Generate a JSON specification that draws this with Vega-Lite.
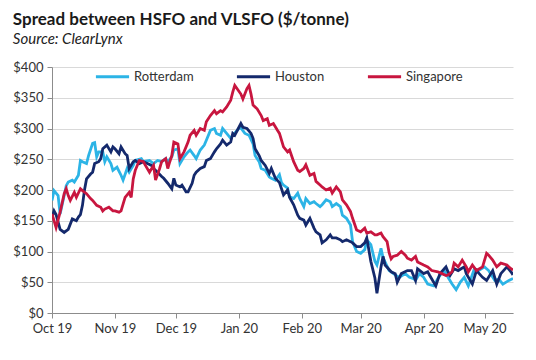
{
  "$schema": "https://vega.github.io/schema/vega-lite/v6.json",
  "width": 461,
  "height": 246,
  "padding": {"left": 12, "top": 11, "right": 22, "bottom": 6},
  "background": "white",
  "title": {
    "text": "Spread between HSFO and VLSFO ($/tonne)",
    "subtitle": "Source: ClearLynx",
    "anchor": "start",
    "frame": "bounds",
    "font": "Lato",
    "fontSize": 17,
    "fontWeight": "bold",
    "color": "#1a1a1a",
    "subtitleFont": "Lato",
    "subtitleFontSize": 15,
    "subtitleFontStyle": "italic",
    "subtitleColor": "#222222",
    "subtitlePadding": 3,
    "offset": 10
  },
  "datasets": {
    "rows": [
      {"c":"Rotterdam","d":"2019-10-01","v":183},{"c":"Rotterdam","d":"2019-10-02","v":199},{"c":"Rotterdam","d":"2019-10-04","v":191},{"c":"Rotterdam","d":"2019-10-05","v":161},{"c":"Rotterdam","d":"2019-10-07","v":191},{"c":"Rotterdam","d":"2019-10-08","v":207},{"c":"Rotterdam","d":"2019-10-09","v":213},{"c":"Rotterdam","d":"2019-10-11","v":216},{"c":"Rotterdam","d":"2019-10-12","v":213},{"c":"Rotterdam","d":"2019-10-14","v":224},{"c":"Rotterdam","d":"2019-10-15","v":248},{"c":"Rotterdam","d":"2019-10-16","v":246},{"c":"Rotterdam","d":"2019-10-18","v":243},{"c":"Rotterdam","d":"2019-10-19","v":256},{"c":"Rotterdam","d":"2019-10-21","v":276},{"c":"Rotterdam","d":"2019-10-22","v":277},{"c":"Rotterdam","d":"2019-10-23","v":254},{"c":"Rotterdam","d":"2019-10-24","v":262},{"c":"Rotterdam","d":"2019-10-26","v":262},{"c":"Rotterdam","d":"2019-10-27","v":246},{"c":"Rotterdam","d":"2019-10-28","v":254},{"c":"Rotterdam","d":"2019-10-30","v":243},{"c":"Rotterdam","d":"2019-10-31","v":232},{"c":"Rotterdam","d":"2019-11-02","v":237},{"c":"Rotterdam","d":"2019-11-04","v":224},{"c":"Rotterdam","d":"2019-11-05","v":216},{"c":"Rotterdam","d":"2019-11-07","v":235},{"c":"Rotterdam","d":"2019-11-08","v":229},{"c":"Rotterdam","d":"2019-11-10","v":240},{"c":"Rotterdam","d":"2019-11-11","v":248},{"c":"Rotterdam","d":"2019-11-14","v":251},{"c":"Rotterdam","d":"2019-11-15","v":246},{"c":"Rotterdam","d":"2019-11-18","v":248},{"c":"Rotterdam","d":"2019-11-20","v":243},{"c":"Rotterdam","d":"2019-11-22","v":248},{"c":"Rotterdam","d":"2019-11-24","v":246},{"c":"Rotterdam","d":"2019-11-26","v":251},{"c":"Rotterdam","d":"2019-11-27","v":246},{"c":"Rotterdam","d":"2019-11-29","v":254},{"c":"Rotterdam","d":"2019-11-30","v":265},{"c":"Rotterdam","d":"2019-12-02","v":267},{"c":"Rotterdam","d":"2019-12-03","v":243},{"c":"Rotterdam","d":"2019-12-05","v":254},{"c":"Rotterdam","d":"2019-12-07","v":262},{"c":"Rotterdam","d":"2019-12-08","v":265},{"c":"Rotterdam","d":"2019-12-10","v":256},{"c":"Rotterdam","d":"2019-12-11","v":251},{"c":"Rotterdam","d":"2019-12-13","v":265},{"c":"Rotterdam","d":"2019-12-15","v":273},{"c":"Rotterdam","d":"2019-12-16","v":281},{"c":"Rotterdam","d":"2019-12-18","v":297},{"c":"Rotterdam","d":"2019-12-20","v":300},{"c":"Rotterdam","d":"2019-12-21","v":292},{"c":"Rotterdam","d":"2019-12-23","v":289},{"c":"Rotterdam","d":"2019-12-24","v":300},{"c":"Rotterdam","d":"2019-12-26","v":292},{"c":"Rotterdam","d":"2019-12-28","v":284},{"c":"Rotterdam","d":"2019-12-29","v":289},{"c":"Rotterdam","d":"2020-01-01","v":300},{"c":"Rotterdam","d":"2020-01-02","v":301},{"c":"Rotterdam","d":"2020-01-04","v":292},{"c":"Rotterdam","d":"2020-01-06","v":289},{"c":"Rotterdam","d":"2020-01-08","v":275},{"c":"Rotterdam","d":"2020-01-09","v":256},{"c":"Rotterdam","d":"2020-01-11","v":246},{"c":"Rotterdam","d":"2020-01-12","v":235},{"c":"Rotterdam","d":"2020-01-14","v":232},{"c":"Rotterdam","d":"2020-01-16","v":221},{"c":"Rotterdam","d":"2020-01-17","v":219},{"c":"Rotterdam","d":"2020-01-19","v":216},{"c":"Rotterdam","d":"2020-01-21","v":225},{"c":"Rotterdam","d":"2020-01-22","v":212},{"c":"Rotterdam","d":"2020-01-23","v":208},{"c":"Rotterdam","d":"2020-01-25","v":203},{"c":"Rotterdam","d":"2020-01-26","v":189},{"c":"Rotterdam","d":"2020-01-28","v":186},{"c":"Rotterdam","d":"2020-01-30","v":195},{"c":"Rotterdam","d":"2020-01-31","v":186},{"c":"Rotterdam","d":"2020-02-02","v":173},{"c":"Rotterdam","d":"2020-02-03","v":186},{"c":"Rotterdam","d":"2020-02-05","v":178},{"c":"Rotterdam","d":"2020-02-07","v":181},{"c":"Rotterdam","d":"2020-02-08","v":178},{"c":"Rotterdam","d":"2020-02-10","v":173},{"c":"Rotterdam","d":"2020-02-11","v":176},{"c":"Rotterdam","d":"2020-02-13","v":184},{"c":"Rotterdam","d":"2020-02-15","v":181},{"c":"Rotterdam","d":"2020-02-16","v":173},{"c":"Rotterdam","d":"2020-02-18","v":178},{"c":"Rotterdam","d":"2020-02-20","v":173},{"c":"Rotterdam","d":"2020-02-21","v":159},{"c":"Rotterdam","d":"2020-02-23","v":154},{"c":"Rotterdam","d":"2020-02-25","v":143},{"c":"Rotterdam","d":"2020-02-26","v":116},{"c":"Rotterdam","d":"2020-02-28","v":100},{"c":"Rotterdam","d":"2020-03-01","v":97},{"c":"Rotterdam","d":"2020-03-03","v":103},{"c":"Rotterdam","d":"2020-03-04","v":119},{"c":"Rotterdam","d":"2020-03-06","v":111},{"c":"Rotterdam","d":"2020-03-08","v":84},{"c":"Rotterdam","d":"2020-03-09","v":78},{"c":"Rotterdam","d":"2020-03-11","v":105},{"c":"Rotterdam","d":"2020-03-12","v":90},{"c":"Rotterdam","d":"2020-03-15","v":69},{"c":"Rotterdam","d":"2020-03-16","v":67},{"c":"Rotterdam","d":"2020-03-18","v":62},{"c":"Rotterdam","d":"2020-03-20","v":58},{"c":"Rotterdam","d":"2020-03-23","v":64},{"c":"Rotterdam","d":"2020-03-25","v":58},{"c":"Rotterdam","d":"2020-03-27","v":56},{"c":"Rotterdam","d":"2020-03-28","v":53},{"c":"Rotterdam","d":"2020-03-30","v":64},{"c":"Rotterdam","d":"2020-04-01","v":58},{"c":"Rotterdam","d":"2020-04-03","v":47},{"c":"Rotterdam","d":"2020-04-06","v":44},{"c":"Rotterdam","d":"2020-04-08","v":56},{"c":"Rotterdam","d":"2020-04-11","v":70},{"c":"Rotterdam","d":"2020-04-13","v":58},{"c":"Rotterdam","d":"2020-04-15","v":47},{"c":"Rotterdam","d":"2020-04-17","v":38},{"c":"Rotterdam","d":"2020-04-19","v":50},{"c":"Rotterdam","d":"2020-04-21","v":58},{"c":"Rotterdam","d":"2020-04-23","v":44},{"c":"Rotterdam","d":"2020-04-26","v":72},{"c":"Rotterdam","d":"2020-04-28","v":69},{"c":"Rotterdam","d":"2020-05-01","v":75},{"c":"Rotterdam","d":"2020-05-03","v":69},{"c":"Rotterdam","d":"2020-05-06","v":53},{"c":"Rotterdam","d":"2020-05-08","v":55},{"c":"Rotterdam","d":"2020-05-10","v":47},{"c":"Rotterdam","d":"2020-05-13","v":53},{"c":"Rotterdam","d":"2020-05-15","v":56},
      {"c":"Houston","d":"2019-10-01","v":155},{"c":"Houston","d":"2019-10-02","v":166},{"c":"Houston","d":"2019-10-03","v":160},{"c":"Houston","d":"2019-10-05","v":136},{"c":"Houston","d":"2019-10-07","v":131},{"c":"Houston","d":"2019-10-09","v":136},{"c":"Houston","d":"2019-10-11","v":153},{"c":"Houston","d":"2019-10-13","v":150},{"c":"Houston","d":"2019-10-14","v":156},{"c":"Houston","d":"2019-10-15","v":160},{"c":"Houston","d":"2019-10-16","v":175},{"c":"Houston","d":"2019-10-17","v":200},{"c":"Houston","d":"2019-10-18","v":218},{"c":"Houston","d":"2019-10-20","v":226},{"c":"Houston","d":"2019-10-21","v":229},{"c":"Houston","d":"2019-10-22","v":243},{"c":"Houston","d":"2019-10-24","v":246},{"c":"Houston","d":"2019-10-25","v":251},{"c":"Houston","d":"2019-10-26","v":267},{"c":"Houston","d":"2019-10-28","v":273},{"c":"Houston","d":"2019-10-30","v":262},{"c":"Houston","d":"2019-10-31","v":270},{"c":"Houston","d":"2019-11-01","v":267},{"c":"Houston","d":"2019-11-03","v":259},{"c":"Houston","d":"2019-11-04","v":270},{"c":"Houston","d":"2019-11-06","v":259},{"c":"Houston","d":"2019-11-07","v":256},{"c":"Houston","d":"2019-11-08","v":235},{"c":"Houston","d":"2019-11-10","v":246},{"c":"Houston","d":"2019-11-11","v":248},{"c":"Houston","d":"2019-11-13","v":243},{"c":"Houston","d":"2019-11-15","v":246},{"c":"Houston","d":"2019-11-17","v":243},{"c":"Houston","d":"2019-11-19","v":240},{"c":"Houston","d":"2019-11-20","v":235},{"c":"Houston","d":"2019-11-22","v":229},{"c":"Houston","d":"2019-11-24","v":222},{"c":"Houston","d":"2019-11-25","v":219},{"c":"Houston","d":"2019-11-27","v":211},{"c":"Houston","d":"2019-11-29","v":202},{"c":"Houston","d":"2019-11-30","v":219},{"c":"Houston","d":"2019-12-01","v":208},{"c":"Houston","d":"2019-12-03","v":205},{"c":"Houston","d":"2019-12-04","v":208},{"c":"Houston","d":"2019-12-06","v":197},{"c":"Houston","d":"2019-12-07","v":197},{"c":"Houston","d":"2019-12-09","v":211},{"c":"Houston","d":"2019-12-10","v":224},{"c":"Houston","d":"2019-12-11","v":229},{"c":"Houston","d":"2019-12-13","v":235},{"c":"Houston","d":"2019-12-15","v":238},{"c":"Houston","d":"2019-12-16","v":248},{"c":"Houston","d":"2019-12-18","v":251},{"c":"Houston","d":"2019-12-20","v":262},{"c":"Houston","d":"2019-12-21","v":267},{"c":"Houston","d":"2019-12-23","v":275},{"c":"Houston","d":"2019-12-24","v":281},{"c":"Houston","d":"2019-12-26","v":273},{"c":"Houston","d":"2019-12-28","v":278},{"c":"Houston","d":"2019-12-29","v":292},{"c":"Houston","d":"2019-12-30","v":289},{"c":"Houston","d":"2020-01-02","v":308},{"c":"Houston","d":"2020-01-03","v":302},{"c":"Houston","d":"2020-01-05","v":300},{"c":"Houston","d":"2020-01-07","v":292},{"c":"Houston","d":"2020-01-08","v":284},{"c":"Houston","d":"2020-01-09","v":267},{"c":"Houston","d":"2020-01-11","v":256},{"c":"Houston","d":"2020-01-12","v":248},{"c":"Houston","d":"2020-01-14","v":240},{"c":"Houston","d":"2020-01-16","v":227},{"c":"Houston","d":"2020-01-17","v":235},{"c":"Houston","d":"2020-01-19","v":219},{"c":"Houston","d":"2020-01-21","v":212},{"c":"Houston","d":"2020-01-22","v":202},{"c":"Houston","d":"2020-01-23","v":192},{"c":"Houston","d":"2020-01-25","v":200},{"c":"Houston","d":"2020-01-26","v":188},{"c":"Houston","d":"2020-01-28","v":176},{"c":"Houston","d":"2020-01-30","v":159},{"c":"Houston","d":"2020-01-31","v":154},{"c":"Houston","d":"2020-02-02","v":151},{"c":"Houston","d":"2020-02-03","v":143},{"c":"Houston","d":"2020-02-05","v":154},{"c":"Houston","d":"2020-02-07","v":138},{"c":"Houston","d":"2020-02-08","v":132},{"c":"Houston","d":"2020-02-10","v":127},{"c":"Houston","d":"2020-02-11","v":114},{"c":"Houston","d":"2020-02-13","v":119},{"c":"Houston","d":"2020-02-15","v":127},{"c":"Houston","d":"2020-02-16","v":122},{"c":"Houston","d":"2020-02-18","v":122},{"c":"Houston","d":"2020-02-20","v":119},{"c":"Houston","d":"2020-02-21","v":116},{"c":"Houston","d":"2020-02-23","v":119},{"c":"Houston","d":"2020-02-25","v":116},{"c":"Houston","d":"2020-02-26","v":114},{"c":"Houston","d":"2020-02-28","v":108},{"c":"Houston","d":"2020-03-01","v":108},{"c":"Houston","d":"2020-03-03","v":114},{"c":"Houston","d":"2020-03-04","v":122},{"c":"Houston","d":"2020-03-06","v":84},{"c":"Houston","d":"2020-03-08","v":57},{"c":"Houston","d":"2020-03-09","v":32},{"c":"Houston","d":"2020-03-11","v":75},{"c":"Houston","d":"2020-03-12","v":92},{"c":"Houston","d":"2020-03-13","v":78},{"c":"Houston","d":"2020-03-16","v":67},{"c":"Houston","d":"2020-03-18","v":64},{"c":"Houston","d":"2020-03-19","v":50},{"c":"Houston","d":"2020-03-21","v":64},{"c":"Houston","d":"2020-03-24","v":69},{"c":"Houston","d":"2020-03-26","v":69},{"c":"Houston","d":"2020-03-28","v":53},{"c":"Houston","d":"2020-03-29","v":72},{"c":"Houston","d":"2020-04-01","v":64},{"c":"Houston","d":"2020-04-03","v":67},{"c":"Houston","d":"2020-04-04","v":61},{"c":"Houston","d":"2020-04-07","v":44},{"c":"Houston","d":"2020-04-09","v":64},{"c":"Houston","d":"2020-04-12","v":75},{"c":"Houston","d":"2020-04-13","v":67},{"c":"Houston","d":"2020-04-14","v":61},{"c":"Houston","d":"2020-04-16","v":72},{"c":"Houston","d":"2020-04-18","v":69},{"c":"Houston","d":"2020-04-21","v":75},{"c":"Houston","d":"2020-04-22","v":64},{"c":"Houston","d":"2020-04-25","v":47},{"c":"Houston","d":"2020-04-27","v":69},{"c":"Houston","d":"2020-04-30","v":58},{"c":"Houston","d":"2020-05-02","v":53},{"c":"Houston","d":"2020-05-05","v":69},{"c":"Houston","d":"2020-05-07","v":47},{"c":"Houston","d":"2020-05-09","v":64},{"c":"Houston","d":"2020-05-12","v":75},{"c":"Houston","d":"2020-05-14","v":67},{"c":"Houston","d":"2020-05-15","v":62},
      {"c":"Singapore","d":"2019-10-01","v":161},{"c":"Singapore","d":"2019-10-03","v":139},{"c":"Singapore","d":"2019-10-05","v":164},{"c":"Singapore","d":"2019-10-07","v":194},{"c":"Singapore","d":"2019-10-08","v":202},{"c":"Singapore","d":"2019-10-09","v":191},{"c":"Singapore","d":"2019-10-10","v":183},{"c":"Singapore","d":"2019-10-12","v":196},{"c":"Singapore","d":"2019-10-13","v":188},{"c":"Singapore","d":"2019-10-15","v":202},{"c":"Singapore","d":"2019-10-16","v":199},{"c":"Singapore","d":"2019-10-18","v":194},{"c":"Singapore","d":"2019-10-20","v":186},{"c":"Singapore","d":"2019-10-21","v":183},{"c":"Singapore","d":"2019-10-23","v":175},{"c":"Singapore","d":"2019-10-25","v":172},{"c":"Singapore","d":"2019-10-26","v":166},{"c":"Singapore","d":"2019-10-27","v":169},{"c":"Singapore","d":"2019-10-29","v":172},{"c":"Singapore","d":"2019-10-31","v":166},{"c":"Singapore","d":"2019-11-01","v":166},{"c":"Singapore","d":"2019-11-03","v":164},{"c":"Singapore","d":"2019-11-04","v":166},{"c":"Singapore","d":"2019-11-06","v":188},{"c":"Singapore","d":"2019-11-08","v":196},{"c":"Singapore","d":"2019-11-09","v":188},{"c":"Singapore","d":"2019-11-10","v":218},{"c":"Singapore","d":"2019-11-11","v":232},{"c":"Singapore","d":"2019-11-13","v":248},{"c":"Singapore","d":"2019-11-15","v":246},{"c":"Singapore","d":"2019-11-16","v":240},{"c":"Singapore","d":"2019-11-18","v":229},{"c":"Singapore","d":"2019-11-20","v":240},{"c":"Singapore","d":"2019-11-21","v":216},{"c":"Singapore","d":"2019-11-23","v":235},{"c":"Singapore","d":"2019-11-24","v":246},{"c":"Singapore","d":"2019-11-26","v":251},{"c":"Singapore","d":"2019-11-27","v":235},{"c":"Singapore","d":"2019-11-28","v":246},{"c":"Singapore","d":"2019-11-29","v":256},{"c":"Singapore","d":"2019-11-30","v":278},{"c":"Singapore","d":"2019-12-02","v":275},{"c":"Singapore","d":"2019-12-03","v":251},{"c":"Singapore","d":"2019-12-05","v":262},{"c":"Singapore","d":"2019-12-07","v":278},{"c":"Singapore","d":"2019-12-08","v":289},{"c":"Singapore","d":"2019-12-10","v":297},{"c":"Singapore","d":"2019-12-11","v":289},{"c":"Singapore","d":"2019-12-13","v":300},{"c":"Singapore","d":"2019-12-15","v":297},{"c":"Singapore","d":"2019-12-16","v":311},{"c":"Singapore","d":"2019-12-18","v":321},{"c":"Singapore","d":"2019-12-20","v":329},{"c":"Singapore","d":"2019-12-21","v":324},{"c":"Singapore","d":"2019-12-23","v":329},{"c":"Singapore","d":"2019-12-24","v":327},{"c":"Singapore","d":"2019-12-26","v":335},{"c":"Singapore","d":"2019-12-28","v":346},{"c":"Singapore","d":"2019-12-29","v":359},{"c":"Singapore","d":"2019-12-30","v":370},{"c":"Singapore","d":"2020-01-02","v":356},{"c":"Singapore","d":"2020-01-03","v":348},{"c":"Singapore","d":"2020-01-05","v":365},{"c":"Singapore","d":"2020-01-06","v":370},{"c":"Singapore","d":"2020-01-07","v":356},{"c":"Singapore","d":"2020-01-08","v":338},{"c":"Singapore","d":"2020-01-10","v":332},{"c":"Singapore","d":"2020-01-12","v":321},{"c":"Singapore","d":"2020-01-13","v":313},{"c":"Singapore","d":"2020-01-15","v":316},{"c":"Singapore","d":"2020-01-16","v":305},{"c":"Singapore","d":"2020-01-18","v":308},{"c":"Singapore","d":"2020-01-20","v":297},{"c":"Singapore","d":"2020-01-21","v":292},{"c":"Singapore","d":"2020-01-23","v":270},{"c":"Singapore","d":"2020-01-25","v":262},{"c":"Singapore","d":"2020-01-26","v":265},{"c":"Singapore","d":"2020-01-28","v":246},{"c":"Singapore","d":"2020-01-30","v":232},{"c":"Singapore","d":"2020-01-31","v":230},{"c":"Singapore","d":"2020-02-02","v":235},{"c":"Singapore","d":"2020-02-03","v":241},{"c":"Singapore","d":"2020-02-05","v":224},{"c":"Singapore","d":"2020-02-07","v":227},{"c":"Singapore","d":"2020-02-08","v":214},{"c":"Singapore","d":"2020-02-10","v":208},{"c":"Singapore","d":"2020-02-11","v":205},{"c":"Singapore","d":"2020-02-13","v":200},{"c":"Singapore","d":"2020-02-15","v":203},{"c":"Singapore","d":"2020-02-16","v":195},{"c":"Singapore","d":"2020-02-18","v":205},{"c":"Singapore","d":"2020-02-20","v":197},{"c":"Singapore","d":"2020-02-21","v":184},{"c":"Singapore","d":"2020-02-23","v":176},{"c":"Singapore","d":"2020-02-25","v":165},{"c":"Singapore","d":"2020-02-26","v":154},{"c":"Singapore","d":"2020-02-28","v":135},{"c":"Singapore","d":"2020-03-01","v":132},{"c":"Singapore","d":"2020-03-03","v":138},{"c":"Singapore","d":"2020-03-04","v":130},{"c":"Singapore","d":"2020-03-06","v":132},{"c":"Singapore","d":"2020-03-08","v":127},{"c":"Singapore","d":"2020-03-09","v":127},{"c":"Singapore","d":"2020-03-11","v":130},{"c":"Singapore","d":"2020-03-12","v":124},{"c":"Singapore","d":"2020-03-14","v":116},{"c":"Singapore","d":"2020-03-15","v":98},{"c":"Singapore","d":"2020-03-16","v":88},{"c":"Singapore","d":"2020-03-17","v":92},{"c":"Singapore","d":"2020-03-19","v":94},{"c":"Singapore","d":"2020-03-21","v":100},{"c":"Singapore","d":"2020-03-23","v":94},{"c":"Singapore","d":"2020-03-24","v":89},{"c":"Singapore","d":"2020-03-26","v":86},{"c":"Singapore","d":"2020-03-28","v":92},{"c":"Singapore","d":"2020-03-29","v":83},{"c":"Singapore","d":"2020-04-01","v":78},{"c":"Singapore","d":"2020-04-03","v":75},{"c":"Singapore","d":"2020-04-05","v":69},{"c":"Singapore","d":"2020-04-08","v":67},{"c":"Singapore","d":"2020-04-10","v":64},{"c":"Singapore","d":"2020-04-12","v":61},{"c":"Singapore","d":"2020-04-13","v":62},{"c":"Singapore","d":"2020-04-15","v":67},{"c":"Singapore","d":"2020-04-16","v":81},{"c":"Singapore","d":"2020-04-18","v":75},{"c":"Singapore","d":"2020-04-20","v":86},{"c":"Singapore","d":"2020-04-22","v":75},{"c":"Singapore","d":"2020-04-23","v":67},{"c":"Singapore","d":"2020-04-25","v":78},{"c":"Singapore","d":"2020-04-27","v":69},{"c":"Singapore","d":"2020-04-30","v":75},{"c":"Singapore","d":"2020-05-02","v":97},{"c":"Singapore","d":"2020-05-03","v":94},{"c":"Singapore","d":"2020-05-05","v":86},{"c":"Singapore","d":"2020-05-07","v":75},{"c":"Singapore","d":"2020-05-09","v":81},{"c":"Singapore","d":"2020-05-12","v":78},{"c":"Singapore","d":"2020-05-14","v":72},{"c":"Singapore","d":"2020-05-15","v":70}
    ]
  },
  "data": {"name": "rows", "format": {"parse": {"d": "date:'%Y-%m-%d'"}}},
  "mark": {"type": "line", "strokeWidth": 2.8, "interpolate": "linear", "clip": true},
  "encoding": {
    "x": {
      "field": "d",
      "type": "temporal",
      "scale": {"domain": [{"year": 2019, "month": 10, "date": 1}, {"year": 2020, "month": 5, "date": 15}]},
      "axis": {
        "title": null,
        "format": "%b %y",
        "tickCount": {"interval": "month", "step": 1},
        "grid": false,
        "domainColor": "#8c8c8c",
        "tickColor": "#8c8c8c",
        "tickSize": 5,
        "labelFont": "Lato",
        "labelFontSize": 13,
        "labelColor": "#333333",
        "labelPadding": 4,
        "labelFlush": false,
        "labelOverlap": false
      }
    },
    "y": {
      "field": "v",
      "type": "quantitative",
      "scale": {"domain": [0, 400], "nice": false},
      "axis": {
        "title": null,
        "values": [0, 50, 100, 150, 200, 250, 300, 350, 400],
        "format": "$,.0f",
        "grid": true,
        "gridColor": "#d9d9d9",
        "domainColor": "#8c8c8c",
        "tickColor": "#8c8c8c",
        "tickSize": 5,
        "labelFont": "Lato",
        "labelFontSize": 13,
        "labelColor": "#333333",
        "labelPadding": 4
      }
    },
    "color": {
      "field": "c",
      "type": "nominal",
      "sort": ["Rotterdam", "Houston", "Singapore"],
      "scale": {"domain": ["Rotterdam", "Houston", "Singapore"], "range": ["#2cb4e6", "#14296c", "#c8163f"]},
      "legend": {
        "title": null,
        "orient": "none",
        "direction": "horizontal",
        "legendX": 42,
        "legendY": -9,
        "symbolType": "stroke",
        "symbolSize": 1100,
        "symbolStrokeWidth": 3,
        "labelFont": "Lato",
        "labelFontSize": 13,
        "labelColor": "#333333",
        "labelOffset": 3,
        "columnPadding": 36
      }
    }
  },
  "config": {"view": {"stroke": null}, "font": "Lato"}
}
